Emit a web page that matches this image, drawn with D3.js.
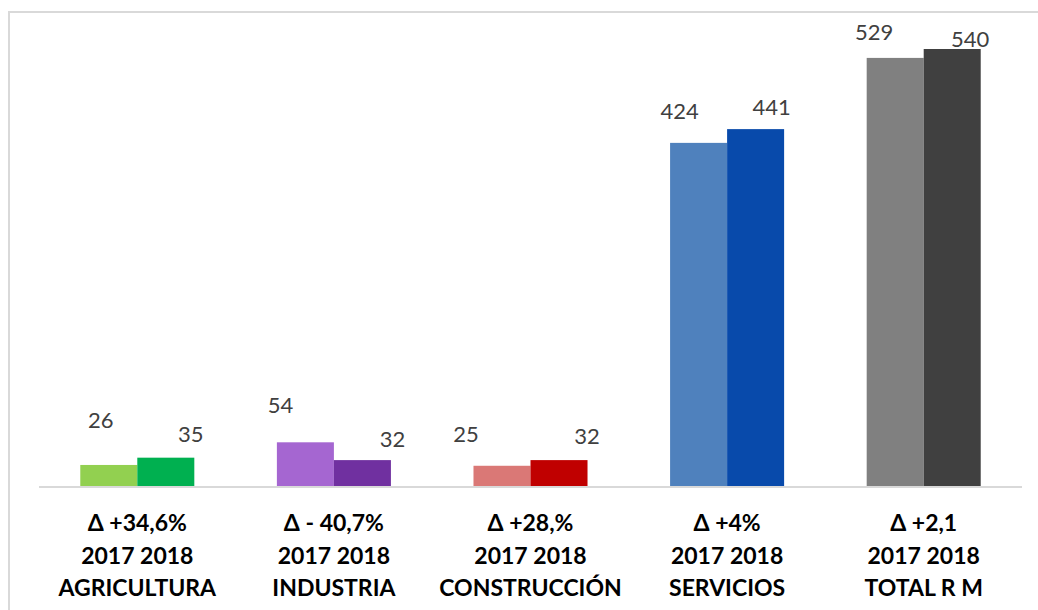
<!DOCTYPE html>
<html>
<head>
<meta charset="utf-8">
<script src="https://cdn.jsdelivr.net/npm/d3@7"></script>
<style>
  html, body { margin: 0; padding: 0; background: #fff; }
  svg { display: block; }
</style>
</head>
<body>
<div id="chart"></div>
<script>
// datos
var categorias = ['AGRICULTURA', 'INDUSTRIA', 'CONSTRUCCIÓN', 'SERVICIOS', 'TOTAL R M'];
var variacion = ['Δ +34,6%', 'Δ - 40,7%', 'Δ +28,%', 'Δ +4%', 'Δ +2,1'];
var anios = ['2017', '2018'];
var valores2017 = [26, 54, 25, 424, 529];
var valores2018 = [35, 32, 32, 441, 540];

// colores por categoría [2017, 2018]
var colores = [
    ['#92d050', '#00b050'],
    ['#a566d1', '#7030a0'],
    ['#da7876', '#c00000'],
    ['#4f81bd', '#084aab'],
    ['#808080', '#404040']
];

// desplazamiento manual de las etiquetas (px), como en el original
var etiquetaDx2017 = [-8, -25, -36, -19, -21];
var etiquetaDy2017 = [-37, -29, -24, -24, -18];
var etiquetaDx2018 = [25, 30, 28, 16, 18];
var etiquetaDy2018 = [-16, -13, -16, -14, -2];

var width = 1038, height = 610;

var svg = d3.select('#chart').append('svg')
    .attr('width', width)
    .attr('height', height);

// marco del gráfico
svg.append('rect')
    .attr('x', 9)
    .attr('y', 12)
    .attr('width', width + 20)
    .attr('height', height + 20)
    .attr('fill', 'none')
    .attr('stroke', '#d9d9d9')
    .attr('stroke-width', 2);

var x = d3.scaleBand()
    .domain(categorias)
    .range([39, 1022])
    .paddingInner(0.42)
    .paddingOuter(0.21);

var xSub = d3.scaleBand()
    .domain(anios)
    .range([0, x.bandwidth()]);

var y = d3.scaleLinear()
    .domain([0, 540])
    .range([486, 49]);

var filas = categorias.map(function(c, i) {
    return [
        { cat: c, anio: '2017', valor: valores2017[i], color: colores[i][0], dx: etiquetaDx2017[i], dy: etiquetaDy2017[i] },
        { cat: c, anio: '2018', valor: valores2018[i], color: colores[i][1], dx: etiquetaDx2018[i], dy: etiquetaDy2018[i] }
    ];
});

var grupos = svg.selectAll('g.grupo')
    .data(filas)
    .enter()
    .append('g')
    .attr('class', 'grupo')
    .attr('transform', function(d) { return 'translate(' + x(d[0].cat) + ',0)'; });

grupos.selectAll('rect')
    .data(function(d) { return d; })
    .enter()
    .append('rect')
    .attr('x', function(d) { return xSub(d.anio); })
    .attr('y', function(d) { return y(d.valor); })
    .attr('width', xSub.bandwidth())
    .attr('height', function(d) { return y(0) - y(d.valor); })
    .attr('fill', function(d) { return d.color; });

grupos.selectAll('text.valor')
    .data(function(d) { return d; })
    .enter()
    .append('text')
    .attr('class', 'valor')
    .attr('x', function(d) { return xSub(d.anio) + xSub.bandwidth() / 2 + d.dx; })
    .attr('y', function(d) { return y(d.valor) + d.dy; })
    .attr('text-anchor', 'middle')
    .attr('font-family', 'Lato, "Open Sans", sans-serif')
    .attr('font-size', 22)
    .attr('fill', '#404040')
    .text(function(d) { return d.valor; });

// línea base
svg.append('line')
    .attr('x1', 39)
    .attr('x2', 1022)
    .attr('y1', 487)
    .attr('y2', 487)
    .attr('stroke', '#d9d9d9')
    .attr('stroke-width', 2);

// etiquetas de categoría (tres líneas)
var etiquetas = svg.selectAll('text.cat')
    .data(categorias)
    .enter()
    .append('text')
    .attr('class', 'cat')
    .attr('text-anchor', 'middle')
    .attr('font-family', 'Lato, "Open Sans", sans-serif')
    .attr('font-weight', 'bold')
    .attr('font-size', 23)
    .attr('fill', '#000');

etiquetas.append('tspan')
    .attr('x', function(d) { return x(d) + x.bandwidth() / 2; })
    .attr('y', 531)
    .text(function(d, i) { return variacion[i]; });
etiquetas.append('tspan')
    .attr('x', function(d) { return x(d) + x.bandwidth() / 2; })
    .attr('y', 564)
    .text(anios.join(' '));
etiquetas.append('tspan')
    .attr('x', function(d) { return x(d) + x.bandwidth() / 2; })
    .attr('y', 596)
    .text(function(d) { return d; });
</script>
</body>
</html>
